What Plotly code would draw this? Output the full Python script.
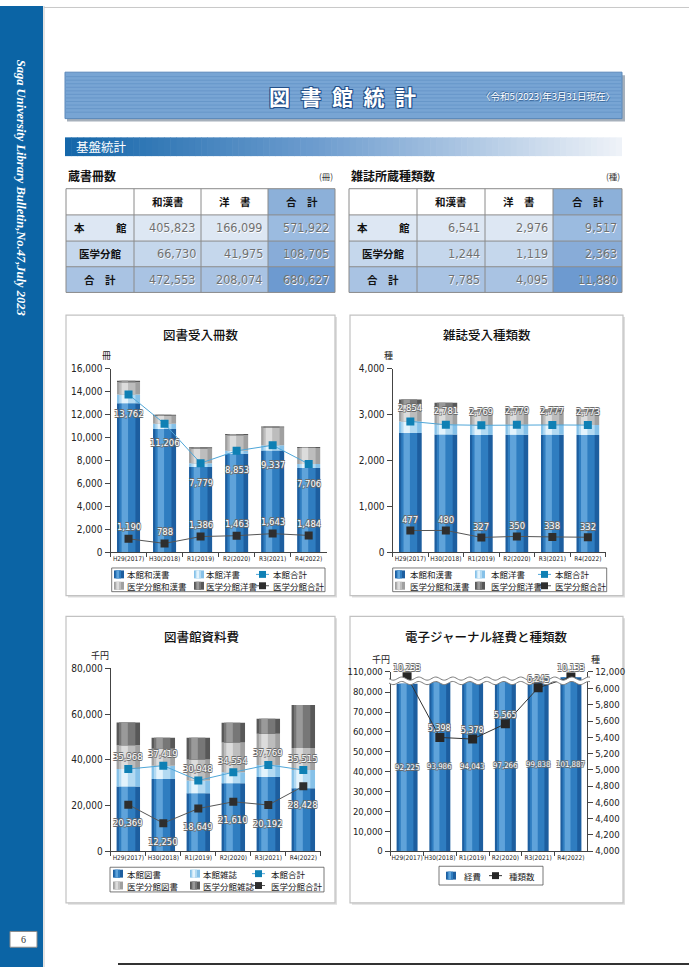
import numpy as np
import plotly.graph_objects as go

W, H = 689, 973
def px(x): return x / W
def py(y): return 1 - y / H

# ---------------- data ----------------
years = ["H29(2017)", "H30(2018)", "R1(2019)", "R2(2020)", "R3(2021)", "R4(2022)"]

row_labels = ["本　　　館", "医学分館", "合　計"]
col_labels = ["和漢書", "洋　書", "合　計"]
book_wakan = [405823, 66730, 472553]
book_yo = [166099, 41975, 208074]
book_total = [571922, 108705, 680627]
mag_wakan = [6541, 1244, 7785]
mag_yo = [2976, 1119, 4095]
mag_total = [9517, 2363, 11880]

# 図書受入冊数
acq_main_wakan = [12990, 10750, 7450, 8600, 8880, 7360]
acq_main_yo = [772, 456, 329, 253, 457, 346]
acq_med_wakan = [1070, 698, 1276, 1353, 1543, 1384]
acq_med_yo = [120, 90, 110, 110, 100, 100]
acq_main_total = [13762, 11206, 7779, 8853, 9337, 7706]
acq_med_total = [1190, 788, 1386, 1463, 1643, 1484]

# 雑誌受入種類数
jr_main_wakan = [2600, 2570, 2560, 2565, 2565, 2560]
jr_main_yo = [254, 211, 209, 214, 212, 213]
jr_med_wakan = [367, 360, 292, 300, 288, 292]
jr_med_yo = [110, 120, 35, 50, 50, 40]
jr_main_total = [2854, 2781, 2769, 2779, 2777, 2773]
jr_med_total = [477, 480, 327, 350, 338, 332]

# 図書館資料費 (千円)
cost_main_book = [28300, 31600, 25400, 29700, 32500, 27500]
cost_main_mag = [7668, 5819, 5548, 4854, 5269, 8015]
cost_med_book = [10400, 7400, 9180, 13000, 13670, 9700]
cost_med_mag = [9969, 4850, 9469, 8610, 6522, 18728]
cost_main_total = [35968, 37419, 30948, 34554, 37769, 35515]
cost_med_total = [20369, 12250, 18649, 21610, 20192, 28428]

# 電子ジャーナル経費と種類数
ej_cost = [92225, 93986, 94043, 97266, 99838, 101887]
ej_titles = [10233, 5398, 5378, 5565, 6245, 10133]
ej_left_ticks = [0, 10000, 20000, 30000, 40000, 50000, 60000, 70000, 80000, 110000]
ej_right_ticks = [4000, 4200, 4400, 4600, 4800, 5000, 5200, 5400, 5600, 5800, 6000, 12000]

# ---------------- styles ----------------
FONT_NUM = "DejaVu Sans Condensed, Noto Sans CJK JP, sans-serif"
FONT_JP = "Noto Sans CJK JP, sans-serif"
OUTL = ("0.6px 0.6px 0 #6a6a6a, -0.6px -0.6px 0 #6a6a6a, "
        "0.6px -0.6px 0 #6a6a6a, -0.6px 0.6px 0 #6a6a6a")
PAL_BLUE = ("#1d5e9f", "#2f7dc0", "#5fa3da")
PAL_LBLUE = ("#86c1e8", "#b3daf2", "#e3f3fc")
PAL_LGRAY = ("#a0a0a0", "#bdbdbd", "#dcdcdc")
PAL_DGRAY = ("#585858", "#777777", "#9a9a9a")
MAIN_LINE = "#4fa6d8"
MAIN_MK = "#0f80b4"
MED_LINE = "#555555"
MED_MK = "#2e2e2e"

shapes, annos = [], []

def rect(x0, y0, x1, y1, fill, line=None, lw=0, layer="below"):
    shapes.append(dict(type="rect", xref="paper", yref="paper",
                       x0=px(x0), x1=px(x1), y0=py(y1), y1=py(y0),
                       fillcolor=fill, line=dict(color=line or fill, width=lw), layer=layer))

def seg(x0, y0, x1, y1, color, w=1, layer="below"):
    shapes.append(dict(type="line", xref="paper", yref="paper",
                       x0=px(x0), x1=px(x1), y0=py(y0), y1=py(y1),
                       line=dict(color=color, width=w), layer=layer))

def text(x, y, s, size, color="#222", family=FONT_JP, xanchor="center",
         weight="normal", shadow="none", angle=0, style="normal"):
    annos.append(dict(x=px(x), y=py(y), xref="paper", yref="paper", text=s,
                      showarrow=False, xanchor=xanchor, yanchor="middle",
                      textangle=angle,
                      font=dict(size=size, color=color, family=family,
                                weight=weight, shadow=shadow, style=style)))

# ---------------- page decoration ----------------
rect(0, 0, 43, 973, "#0b64a5")
seg(44, 0, 44, 973, "#c8c8c8", 1)
seg(44, 1.5, 689, 1.5, "#c8c8c8", 1)
seg(118, 970, 689, 970, "#333333", 2)
text(21, 184, "Saga University Library Bulletin,No.47,July 2023", 12.5,
     color="#ffffff", family="Liberation Serif, DejaVu Serif, serif",
     weight="bold", style="italic", angle=90)
rect(10, 937, 37, 953, "#ffffff", "#8a8a8a", 1)
text(23.5, 945.5, "6", 10, color="#333", family="Liberation Serif, serif")

# header band
rect(67, 70, 625, 117, "#a6b0bb")
rect(65, 67, 622, 114, "#78a5d4", "#5a88ba", 1)
for yy in np.arange(71.5, 111, 3.6):
    seg(66, yy, 621, yy, "#6393c6", 0.8)
text(342, 91, "図\u2002書\u2002館\u2002統\u2002計", 21, color="#ffffff", weight="bold",
     shadow="1px 1px 0 #23508a, -1px -1px 0 #23508a, 1px -1px 0 #23508a, -1px 1px 0 #23508a")
text(617, 91, "〈令和5(2023)年3月31日現在〉", 9.5, color="#ffffff", xanchor="right",
     shadow="0.6px 0.6px 0 #3d6b9e, -0.6px -0.6px 0 #3d6b9e")

# 基盤統計 gradient band
stops = [(0.0, (21, 103, 170)), (0.45, (110, 157, 207)), (1.0, (238, 242, 248))]
def grad(t):
    for (t0, c0), (t1, c1) in zip(stops[:-1], stops[1:]):
        if t <= t1:
            f = (t - t0) / (t1 - t0)
            return "rgb(%d,%d,%d)" % tuple(int(a + (b - a) * f) for a, b in zip(c0, c1))
    return "rgb(238,242,248)"
N = 90
bx0, bx1 = 65, 622
for i in range(N):
    xa = bx0 + (bx1 - bx0) * i / N
    xb = bx0 + (bx1 - bx0) * (i + 1) / N + 0.6
    rect(xa, 133, min(xb, bx1), 152, grad(i / (N - 1)))
text(74, 142.5, "基盤統計", 12.5, color="#ffffff", xanchor="left")

# ---------------- tables ----------------
def table(xe, ye, title, unit, wakan, yo, total):
    text(xe[0], 172, title, 12, color="#111", xanchor="left", weight="bold")
    text(xe[-1], 172, unit, 8.5, color="#333", xanchor="right")
    hdr = ["#ffffff", "#ffffff", "#ffffff", "#8cb0d9"]
    rows = [("#dde7f3", "#9bbbe0"), ("#c5d7ec", "#88acd8"), ("#a9c3e3", "#6d9ad0")]
    for c in range(4):
        rect(xe[c], ye[0], xe[c + 1], ye[1], hdr[c])
    for r in range(3):
        for c in range(4):
            rect(xe[c], ye[r + 1], xe[c + 1], ye[r + 2], rows[r][1] if c == 3 else rows[r][0])
    for x in xe:
        seg(x, ye[0], x, ye[-1], "#8a8a8a", 1)
    for y in ye:
        seg(xe[0], y, xe[-1], y, "#8a8a8a", 1)
    for c, lab in enumerate(col_labels):
        text((xe[c + 1] + xe[c + 2]) / 2, (ye[0] + ye[1]) / 2, lab, 10.5, color="#111", weight="bold")
    for r, lab in enumerate(row_labels):
        yc = (ye[r + 1] + ye[r + 2]) / 2
        text((xe[0] + xe[1]) / 2, yc, lab, 10.5, color="#111", weight="bold")
        for c, arr in enumerate([wakan, yo, total]):
            text(xe[c + 2] - 3, yc, f"{arr[r]:,}", 12.5, color="#707070",
                 family=FONT_NUM, xanchor="right",
                 shadow="0.5px 0.5px 0 #ffffff")

ye = [185, 211.5, 238, 264, 290]
table([66, 134, 201, 268, 335], ye, "蔵書冊数", "(冊)", book_wakan, book_yo, book_total)
table([349, 417, 485, 553, 622], ye, "雑誌所蔵種類数", "(種)", mag_wakan, mag_yo, mag_total)

# ---------------- chart panels ----------------
for (x0, y0, x1, y1) in [(66, 313, 335, 597), (350, 313, 623, 597),
                         (66, 618, 335, 908), (350, 618, 623, 908)]:
    rect(x0 + 2, y0 + 2, x1 + 2, y1 + 2, "#dedede")
    rect(x0, y0, x1, y1, "#ffffff", "#c2c2c2", 1.2)

text(201, 333, "図書受入冊数", 12.5, color="#111", weight=500)
text(487, 333, "雑誌受入種類数", 12.5, color="#111", weight=500)
text(201, 638, "図書館資料費", 12.5, color="#111", weight=500)
text(486, 638, "電子ジャーナル経費と種類数", 12.5, color="#111", weight=500)
text(106, 353.5, "冊", 9, color="#222")
text(388, 353.5, "種", 9, color="#222")
text(100, 658, "千円", 9, color="#222")
text(381, 661.5, "千円", 9, color="#222")
text(595, 661.5, "種", 9, color="#222")

fig = go.Figure()

def add_stack(xa, ya, segs, w):
    base = np.zeros(len(years))
    for vals, pal in segs:
        v = np.array(vals, dtype=float)
        for col, fo, fw in [(pal[0], 0.0, 1.0), (pal[1], 0.1, 0.7), (pal[2], 0.2, 0.28)]:
            fig.add_trace(go.Bar(x=years, y=v, base=base, width=fw * w, offset=-w / 2 + fo * w,
                                 marker=dict(color=col, line=dict(width=0)),
                                 xaxis=xa, yaxis=ya, showlegend=False, hoverinfo="skip"))
        base = base + v

def add_line(xa, ya, vals, lc, mc, size=8):
    fig.add_trace(go.Scatter(x=years, y=vals, mode="lines+markers",
                             line=dict(color=lc, width=1),
                             marker=dict(symbol="square", size=size, color=mc,
                                         line=dict(color=mc, width=0)),
                             xaxis=xa, yaxis=ya, showlegend=False, hoverinfo="skip"))

def dlabels(xref, yref, ys, vals, shift, size=9.4):
    for c, y, v in zip(years, ys, vals):
        annos.append(dict(x=c, y=y, xref=xref, yref=yref, text=f"{v:,}", showarrow=False,
                          yshift=shift, font=dict(family=FONT_NUM, size=size,
                                                  color="#ffffff", shadow=OUTL)))

# chart 1
add_stack("x", "y", [(acq_main_wakan, PAL_BLUE), (acq_main_yo, PAL_LBLUE),
                     (acq_med_wakan, PAL_LGRAY), (acq_med_yo, PAL_DGRAY)], 0.64)
add_line("x", "y", acq_main_total, MAIN_LINE, MAIN_MK)
add_line("x", "y", acq_med_total, MED_LINE, MED_MK)
dlabels("x", "y", acq_main_total, acq_main_total, -19)
dlabels("x", "y", acq_med_total, acq_med_total, 12)

# chart 2
add_stack("x2", "y2", [(jr_main_wakan, PAL_BLUE), (jr_main_yo, PAL_LBLUE),
                       (jr_med_wakan, PAL_LGRAY), (jr_med_yo, PAL_DGRAY)], 0.64)
add_line("x2", "y2", jr_main_total, MAIN_LINE, MAIN_MK)
add_line("x2", "y2", jr_med_total, MED_LINE, MED_MK)
dlabels("x2", "y2", jr_main_total, jr_main_total, 14)
dlabels("x2", "y2", jr_med_total, jr_med_total, 11)

# chart 3
add_stack("x3", "y3", [(cost_main_book, PAL_BLUE), (cost_main_mag, PAL_LBLUE),
                       (cost_med_book, PAL_LGRAY), (cost_med_mag, PAL_DGRAY)], 0.67)
add_line("x3", "y3", cost_main_total, MAIN_LINE, MAIN_MK)
add_line("x3", "y3", cost_med_total, MED_LINE, MED_MK)
dlabels("x3", "y3", cost_main_total, cost_main_total, 12)
dlabels("x3", "y3", cost_med_total, cost_med_total, -18)

# chart 4 (broken axes)
def brk_left(v):
    return v if v <= 80000 else 80000 + (v - 80000) * 0.343
def brk_right(v):
    return v if v <= 6000 else 6000 + (v - 6000) * 0.0344

ej_cost_pos = [brk_left(v) for v in ej_cost]
ej_titles_pos = [brk_right(v) for v in ej_titles]
add_stack("x4", "y4", [(ej_cost_pos, PAL_BLUE)], 0.64)
add_line("x4", "y5", ej_titles_pos, "#333333", "#262626", size=9)
dlabels("x4", "y5", ej_titles_pos, ej_titles, 9, size=8.8)
dlabels("x4", "y4", [p / 2 for p in ej_cost_pos], ej_cost, 0, size=7.8)

# wave break
xs = np.linspace(389, 590, 160)
top = 681.0 + 1.6 * np.sin(2 * np.pi * (xs - 389) / 17)
bot = top + 4.5
pts = [(px(a), py(b)) for a, b in zip(xs, top)] + [(px(a), py(b)) for a, b in zip(xs[::-1], bot[::-1])]
path = "M " + " L ".join(f"{a:.5f},{b:.5f}" for a, b in pts) + " Z"
shapes.append(dict(type="path", xref="paper", yref="paper", path=path,
                   fillcolor="#ffffff", line=dict(width=0), layer="above"))
for arr in (top, bot):
    p = "M " + " L ".join(f"{px(a):.5f},{py(b):.5f}" for a, b in zip(xs, arr))
    shapes.append(dict(type="path", xref="paper", yref="paper", path=p,
                       line=dict(color="#7a7a7a", width=1), layer="above"))

# ---------------- legends (drawn) ----------------
def sym_box(x, y, pal):
    rect(x, y - 4, x + 10, y + 4, pal[0], layer="above")
    rect(x + 1.5, y - 4, x + 7, y + 4, pal[1], layer="above")
    rect(x + 2.5, y - 4, x + 5, y + 4, pal[2], layer="above")

def sym_line(x0, x1, y, lc, mc):
    seg(x0, y, x1, y, lc, 1, layer="above")
    c = (x0 + x1) / 2
    rect(c - 3.5, y - 3.5, c + 3.5, y + 3.5, mc, layer="above")

def legend(box, rows_y, cols, items):
    rect(box[0], box[1], box[2], box[3], "#ffffff", "#555555", 0.8)
    for r, row in enumerate(items):
        for c, (kind, pal, lab) in enumerate(row):
            sx, tx = cols[c]
            y = rows_y[r]
            if kind == "box":
                sym_box(sx, y, pal)
            else:
                sym_line(sx, sx + 13, y, pal[0], pal[1])
            text(tx, y, lab, 8.5, color="#222", xanchor="left")

items_acq = [[("box", PAL_BLUE, "本館和漢書"), ("box", PAL_LBLUE, "本館洋書"),
              ("line", (MAIN_LINE, MAIN_MK), "本館合計")],
             [("box", PAL_LGRAY, "医学分館和漢書"), ("box", PAL_DGRAY, "医学分館洋書"),
              ("line", (MED_LINE, MED_MK), "医学分館合計")]]
legend((111.7, 569, 325, 593), [575.5, 587], [(114, 125), (194, 204), (256, 271)], items_acq)
legend((392.7, 569, 606.7, 593), [575.5, 587], [(395, 408), (475, 489), (538, 553)], items_acq)
items_cost = [[("box", PAL_BLUE, "本館図書"), ("box", PAL_LBLUE, "本館雑誌"),
               ("line", (MAIN_LINE, MAIN_MK), "本館合計")],
              [("box", PAL_LGRAY, "医学分館図書"), ("box", PAL_DGRAY, "医学分館雑誌"),
               ("line", (MED_LINE, MED_MK), "医学分館合計")]]
legend((110, 872, 324, 897), [878.5, 890.5], [(113, 125), (190, 201), (252, 269)], items_cost)
legend((439, 871, 543, 890), [880.5], [(446, 462), (489, 507)],
       [[("box", PAL_BLUE, "経費"), ("line", ("#333333", "#262626"), "種類数")]])

# ---------------- axes ----------------
def xax(d0, d1, anchor):
    return dict(domain=[px(d0), px(d1)], anchor=anchor, type="category", range=[-0.5, 5.5],
                showline=True, linecolor="#444", linewidth=1, ticks="outside",
                tickson="boundaries", ticklen=4, tickcolor="#444", showgrid=False,
                tickangle=0,
                tickfont=dict(size=6.5, color="#222", family=FONT_NUM), fixedrange=True)

def yax(b, t, anchor, rng, dtick=None, tickvals=None, ticktext=None, side="left", size=10):
    d = dict(domain=[py(b), py(t)], anchor=anchor, range=rng, showline=True,
             linecolor="#444", linewidth=1, ticks="outside", ticklen=5, tickcolor="#444",
             showgrid=False, zeroline=False, side=side,
             tickfont=dict(size=size, color="#222", family=FONT_NUM), fixedrange=True)
    if dtick is not None:
        d.update(tickmode="linear", tick0=0, dtick=dtick, tickformat=",d")
    else:
        d.update(tickmode="array", tickvals=tickvals, ticktext=ticktext)
    return d

fig.update_layout(
    width=W, height=H, margin=dict(l=0, r=0, t=0, b=0),
    paper_bgcolor="#ffffff", plot_bgcolor="rgba(0,0,0,0)",
    barmode="overlay", hovermode=False, showlegend=False,
    font=dict(family=FONT_NUM, color="#222"),
    xaxis=xax(110.5, 326.7, "y"),
    yaxis=yax(553.3, 367.3, "x", [0, 16000], dtick=2000),
    xaxis2=xax(392.6, 605.6, "y2"),
    yaxis2=yax(553.3, 367.3, "x2", [0, 4000], dtick=1000),
    xaxis3=xax(110.8, 320.8, "y3"),
    yaxis3=yax(855.7, 670.7, "x3", [0, 80000], dtick=20000),
    xaxis4=xax(390.7, 587.3, "y4"),
    yaxis4=yax(855.7, 674, "x4", [0, brk_left(110000)],
               tickvals=[brk_left(v) for v in ej_left_ticks],
               ticktext=[f"{v:,}" for v in ej_left_ticks], size=9.5),
    yaxis5=yax(855.7, 674, "x4", [4000, brk_right(12000)],
               tickvals=[brk_right(v) for v in ej_right_ticks],
               ticktext=[f"{v:,}" for v in ej_right_ticks], side="right", size=9.5),
    shapes=shapes, annotations=annos,
)
fig.layout.yaxis5.overlaying = "y4"

fig.write_html("out.html", config={"displayModeBar": False, "staticPlot": True},
               post_script="document.body.style.margin='0';document.body.style.padding='0';"
                           "document.documentElement.style.overflow='hidden';")
